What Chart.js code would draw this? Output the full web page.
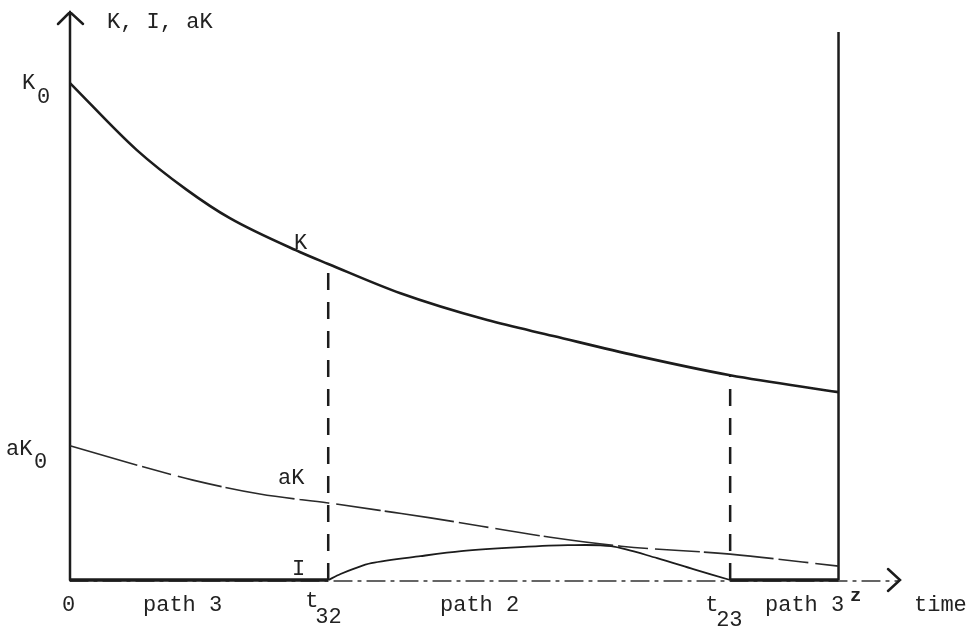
<!DOCTYPE html>
<html>
<head>
<meta charset="utf-8">
<script src="https://cdn.jsdelivr.net/npm/chart.js@4"></script>
<style>
  html, body { margin: 0; padding: 0; background: #fff; }
  #wrap { width: 978px; height: 629px; }
</style>
</head>
<body>
<div id="wrap"><canvas id="chart"></canvas></div>
<script>
// time axis: 0 .. z (z = 10), switching times
const zTime = 10;
const t32 = 3.36;
const t23 = 8.59;
const yTop = 11.43;
const xTop = 10.8;

// capital stock K
const timeK = [0, 0.87, 1.52, 2.08, 2.99, 3.36, 4.30, 5.43, 6.29, 7.38, 8.59, 10];
const valuesK = [10.0, 8.65, 7.85, 7.28, 6.60, 6.36, 5.77, 5.23, 4.91, 4.51, 4.12, 3.78];

// depreciation aK
const timeAK = [0, 0.74, 1.60, 2.47, 3.36, 4.21, 4.69, 6.25, 7.17, 8.59, 10];
const valuesAK = [2.70, 2.37, 2.01, 1.73, 1.55, 1.36, 1.25, 0.86, 0.68, 0.52, 0.28];

// investment I on path 2 (zero on path 3)
const timeI = [3.36, 3.52, 3.68, 3.92, 4.56, 5.09, 5.86, 6.48, 7.04, 7.64, 8.11, 8.59];
const valuesI = [0, 0.12, 0.22, 0.34, 0.48, 0.58, 0.66, 0.70, 0.68, 0.44, 0.22, 0];

const zip = (xs, ys) => xs.map((x, i) => ({ x: x, y: ys[i] }));
const kAt = (t) => valuesK[timeK.indexOf(t)];

const ink = "#1c1c1c";
const font = "22px 'Liberation Mono', 'DejaVu Sans Mono', monospace";

// axes with arrow heads
const axesPlugin = {
  id: "axes",
  beforeDatasetsDraw(chart) {
    const { ctx, scales: { x, y } } = chart;
    const x0 = x.getPixelForValue(0), y0 = y.getPixelForValue(0);
    const yT = y.getPixelForValue(yTop), xT = x.getPixelForValue(xTop);
    ctx.save();
    ctx.strokeStyle = ink;
    ctx.lineCap = "round";
    // vertical axis
    ctx.lineWidth = 2.5;
    ctx.beginPath();
    ctx.moveTo(x0, y0);
    ctx.lineTo(x0, yT);
    ctx.moveTo(x0 - 12, yT + 12);
    ctx.lineTo(x0, yT);
    ctx.lineTo(x0 + 13, yT + 12);
    ctx.stroke();
    // horizontal axis (thin, dash-dot)
    ctx.lineWidth = 1.3;
    ctx.strokeStyle = "#333";
    ctx.setLineDash([18, 6, 3, 6]);
    ctx.beginPath();
    ctx.moveTo(x0, y0 + 1);
    ctx.lineTo(xT - 2, y0 + 1);
    ctx.stroke();
    ctx.setLineDash([]);
    ctx.lineWidth = 2.5;
    ctx.strokeStyle = ink;
    ctx.beginPath();
    ctx.moveTo(xT - 12, y0 - 11);
    ctx.lineTo(xT, y0);
    ctx.lineTo(xT - 12, y0 + 11);
    ctx.stroke();
    ctx.restore();
  },
};

// typewritten labels
const labelsPlugin = {
  id: "labels",
  afterDatasetsDraw(chart) {
    const { ctx, scales: { x, y } } = chart;
    const put = (txt, px, py, f) => {
      ctx.font = f || font;
      ctx.fillText(txt, px, py);
    };
    const x0 = x.getPixelForValue(0), y0 = y.getPixelForValue(0);
    const pK0 = y.getPixelForValue(valuesK[0]);
    const pA0 = y.getPixelForValue(valuesAK[0]);
    const p32 = x.getPixelForValue(t32), p23 = x.getPixelForValue(t23);
    ctx.save();
    ctx.fillStyle = "#222";
    ctx.textAlign = "left";
    ctx.textBaseline = "alphabetic";
    put("K, I, aK", x0 + 37, 28);
    put("K", 22, pK0 + 6);
    put("0", 37, pK0 + 20);
    put("aK", 6, pA0 + 9);
    put("0", 34, pA0 + 22);
    put("K", 294, 249);
    put("aK", 278, 484);
    put("I", 292, 575);
    put("0", x0 - 8, y0 + 31);
    put("path 3", 143, y0 + 31);
    put("t", p32 - 23, y0 + 27);
    put("32", p32 - 13, y0 + 43);
    put("path 2", 440, y0 + 31);
    put("t", p23 - 25, y0 + 31);
    put("23", p23 - 14, y0 + 46);
    put("path 3", 765, y0 + 31);
    put("z", 850, y0 + 21, "bold 19px 'Liberation Mono', monospace");
    put("time", 914, y0 + 31);
    ctx.restore();
  },
};

new Chart(document.getElementById("chart"), {
  type: "line",
  data: {
    datasets: [
      {
        label: "K",
        data: zip(timeK, valuesK),
        borderColor: ink,
        borderWidth: 2.6,
        cubicInterpolationMode: "monotone",
      },
      {
        label: "aK",
        data: zip(timeAK, valuesAK),
        borderColor: "#2a2a2a",
        borderWidth: 1.6,
        borderDash: [70, 5, 30, 7, 45, 4],
        cubicInterpolationMode: "monotone",
      },
      {
        label: "I path 2",
        data: zip(timeI, valuesI),
        borderColor: ink,
        borderWidth: 1.8,
        tension: 0.3,
      },
      {
        label: "I path 3 (start)",
        data: [{ x: 0, y: 0 }, { x: t32, y: 0 }],
        borderColor: ink,
        borderWidth: 3.5,
      },
      {
        label: "I path 3 (end)",
        data: [{ x: t23, y: 0 }, { x: zTime, y: 0 }],
        borderColor: ink,
        borderWidth: 3.5,
      },
      {
        label: "t32",
        data: [{ x: t32, y: 0 }, { x: t32, y: kAt(t32) }],
        borderColor: ink,
        borderWidth: 2.5,
        borderDash: [17, 12],
      },
      {
        label: "t23",
        data: [{ x: t23, y: 0 }, { x: t23, y: kAt(t23) }],
        borderColor: ink,
        borderWidth: 2.5,
        borderDash: [17, 12],
      },
      {
        label: "z",
        data: [{ x: zTime, y: 0 }, { x: zTime, y: 11.03 }],
        borderColor: ink,
        borderWidth: 2.5,
      },
    ],
  },
  options: {
    responsive: true,
    maintainAspectRatio: false,
    animation: false,
    layout: { padding: { left: 70, right: 78, top: 12, bottom: 49 } },
    elements: { point: { radius: 0 }, line: { fill: false } },
    datasets: { line: { clip: false } },
    scales: {
      x: { type: "linear", min: 0, max: xTop, display: false },
      y: { type: "linear", min: 0, max: yTop, display: false },
    },
    plugins: {
      legend: { display: false },
      tooltip: { enabled: false },
    },
  },
  plugins: [axesPlugin, labelsPlugin],
});
</script>
</body>
</html>
